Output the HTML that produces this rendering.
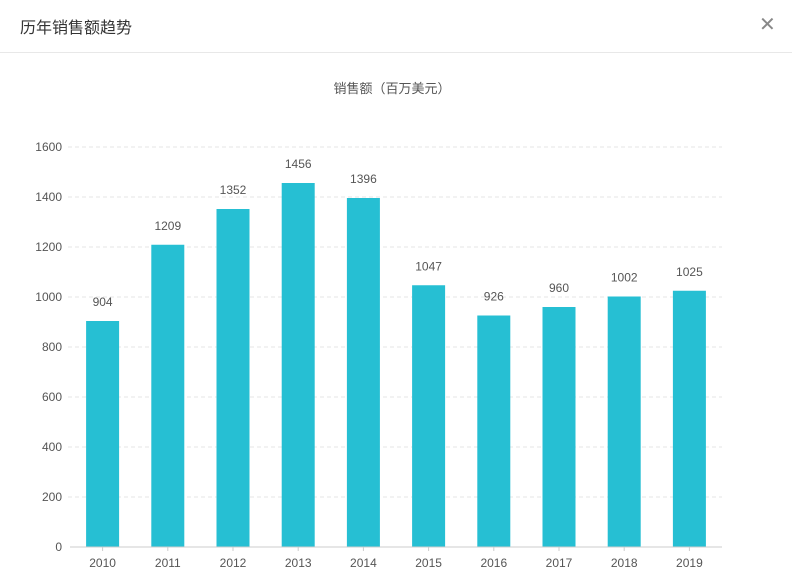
<!DOCTYPE html>
<html><head><meta charset="utf-8"><style>
body{margin:0;width:792px;height:587px;background:#fff;font-family:"Liberation Sans","Noto Sans CJK SC",sans-serif;overflow:hidden;position:relative}
.hdr{position:absolute;left:0;top:0;width:792px;height:52px;border-bottom:1px solid #e8e8e8}
.hdr .t{position:absolute;left:20px;top:14px;font-size:16px;color:#333}
.hdr .x{position:absolute;left:759px;top:12px;font-size:20px;color:#888}
</style></head><body>
<div class="hdr">
<span class="t">历年销售额趋势</span>
<span class="x">✕</span>
</div>
<svg id="chart" width="792" height="587" style="position:absolute;left:0;top:0">
<text x="392" y="93" text-anchor="middle" font-size="13" fill="#555">销售额（百万美元）</text>
</svg>
<script>
const categories=["2010","2011","2012","2013","2014","2015","2016","2017","2018","2019"];
const salesValues=[904,1209,1352,1456,1396,1047,926,960,1002,1025];
const yTicks=[0,200,400,600,800,1000,1200,1400,1600];
const svg=document.getElementById('chart');const NS='http://www.w3.org/2000/svg';
const x0=70,x1=722,yb=547,yt=147,ymax=1600;
const y=v=>yb-(v/ymax)*(yb-yt);
const step=(x1-x0)/categories.length;
const xc=i=>x0+step*(i+0.5);
function mk(t,a){const e=document.createElementNS(NS,t);for(const k in a)e.setAttribute(k,a[k]);svg.appendChild(e);return e;}
yTicks.forEach(v=>{
 if(v>0){const g=mk('line',{x1:68,x2:x1,y1:y(v),y2:y(v),stroke:'#e6e6e6','stroke-dasharray':'4,3'});
 
 }
 const t=mk('text',{x:62,y:y(v)+4,'text-anchor':'end','font-size':12,fill:'#555'});t.textContent=v;
 
 
});
categories.forEach((c,i)=>{
 const bw=33,v=salesValues[i];
 const b=mk('rect',{x:xc(i)-bw/2,y:y(v),width:bw,height:yb-y(v),fill:'#26bfd3'});
 
 
 const l=mk('text',{x:xc(i),y:y(v)-15,'text-anchor':'middle','font-size':12,fill:'#555'});l.textContent=v;
 
 
 const tk=mk('line',{x1:xc(i),x2:xc(i),y1:yb,y2:yb+4,stroke:'#ccc'});
 
 
 const t=mk('text',{x:xc(i),y:yb+20,'text-anchor':'middle','font-size':12,fill:'#555'});t.textContent=c;
 
 
});
const ax=mk('line',{x1:x0,x2:x1,y1:yb,y2:yb,stroke:'#ccc'});


</script>
</body></html>
